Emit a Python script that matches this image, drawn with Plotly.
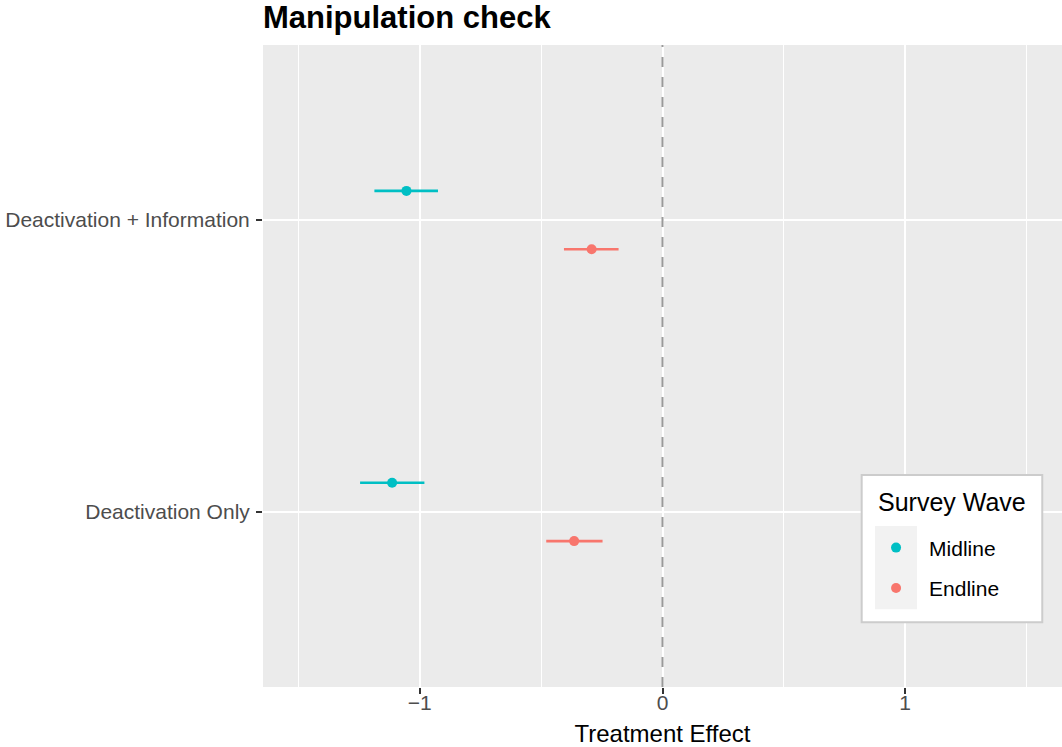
import plotly.graph_objects as go

# ---- data ----
categories = ["Deactivation Only", "Deactivation + Information"]
waves = ["Midline", "Endline"]
colors = {"Midline": "#00BFC4", "Endline": "#F8766D"}
dodge = {"Midline": 0.1, "Endline": -0.1}

estimate = {
    "Midline": [-1.114, -1.055],
    "Endline": [-0.364, -0.292],
}
ci_low = {
    "Midline": [-1.246, -1.187],
    "Endline": [-0.479, -0.406],
}
ci_high = {
    "Midline": [-0.981, -0.925],
    "Endline": [-0.247, -0.181],
}
x_ticks = [-1, 0, 1]
x_ticktext = ["\u22121", "0", "1"]
legend_title = "Survey Wave"

FONT = "Liberation Sans, Arial, Helvetica, sans-serif"

fig = go.Figure()
for w in waves:
    ypos = [i + 1 + dodge[w] for i in range(len(categories))]
    est = estimate[w]
    fig.add_trace(go.Scatter(
        x=est, y=ypos, mode="markers", name=w,
        legendgroup=w,
        marker=dict(color=colors[w], size=10),
        error_x=dict(type="data", symmetric=False,
                     array=[h - e for h, e in zip(ci_high[w], est)],
                     arrayminus=[e - l for e, l in zip(est, ci_low[w])],
                     color=colors[w], thickness=2.6, width=0),
    ))

fig.add_vline(x=0, line=dict(color="#999999", width=2, dash="10px,10px"), layer="above")

# legend box and key background (ggplot-style legend frame)
fig.add_shape(type="rect", xref="paper", yref="paper",
              x0=0.7493, x1=0.9753, y0=0.1008, y1=0.3302,
              fillcolor="white", line=dict(color="#CCCCCC", width=2), layer="above")
fig.add_shape(type="rect", xref="paper", yref="paper",
              x0=0.766, x1=0.8185, y0=0.121, y1=0.2508,
              fillcolor="#F2F2F2", line=dict(width=0), layer="above")
fig.add_annotation(text=legend_title, xref="paper", yref="paper",
                   x=0.7672, y=0.2882, xanchor="left", yanchor="middle",
                   showarrow=False, font=dict(size=25, color="black", family=FONT))

fig.update_layout(
    width=1062, height=747,
    margin=dict(l=263, r=0, t=45, b=60),
    paper_bgcolor="white",
    plot_bgcolor="#EBEBEB",
    font=dict(family=FONT, color="black"),
    title=dict(text="<b>Manipulation check</b>", x=0, xref="paper", xanchor="left",
               y=1, yref="container", yanchor="top", pad=dict(t=6),
               font=dict(size=31, color="black", family=FONT)),
    showlegend=True,
    legend=dict(
        font=dict(size=21, color="black"),
        x=0.751, y=0.2485, xanchor="left", yanchor="top",
        bgcolor="rgba(0,0,0,0)", borderwidth=0,
        tracegroupgap=10, itemwidth=56,
    ),
)

fig.update_xaxes(
    range=[-1.646, 1.646], tickmode="array", tickvals=x_ticks,
    ticktext=x_ticktext,
    showgrid=True, gridcolor="white", gridwidth=2.2,
    minor=dict(tickvals=[-1.5, -0.5, 0.5, 1.5], showgrid=True, gridcolor="white", gridwidth=1.1),
    zeroline=False, showline=False,
    ticks="outside", ticklen=6, tickwidth=2, tickcolor="#333333",
    tickfont=dict(size=21, color="#4D4D4D"),
    ticklabelstandoff=-9,
    title=dict(text="Treatment Effect", font=dict(size=24, color="black"), standoff=16),
)
fig.update_yaxes(
    range=[0.4, 2.6], tickmode="array", tickvals=[1, 2], ticktext=categories,
    showgrid=True, gridcolor="white", gridwidth=2.2,
    zeroline=False, showline=False,
    ticks="outside", ticklen=6, tickwidth=2, tickcolor="#333333",
    tickfont=dict(size=21, color="#4D4D4D"),
    ticklabelstandoff=2,
)

fig.write_html("out.html")
